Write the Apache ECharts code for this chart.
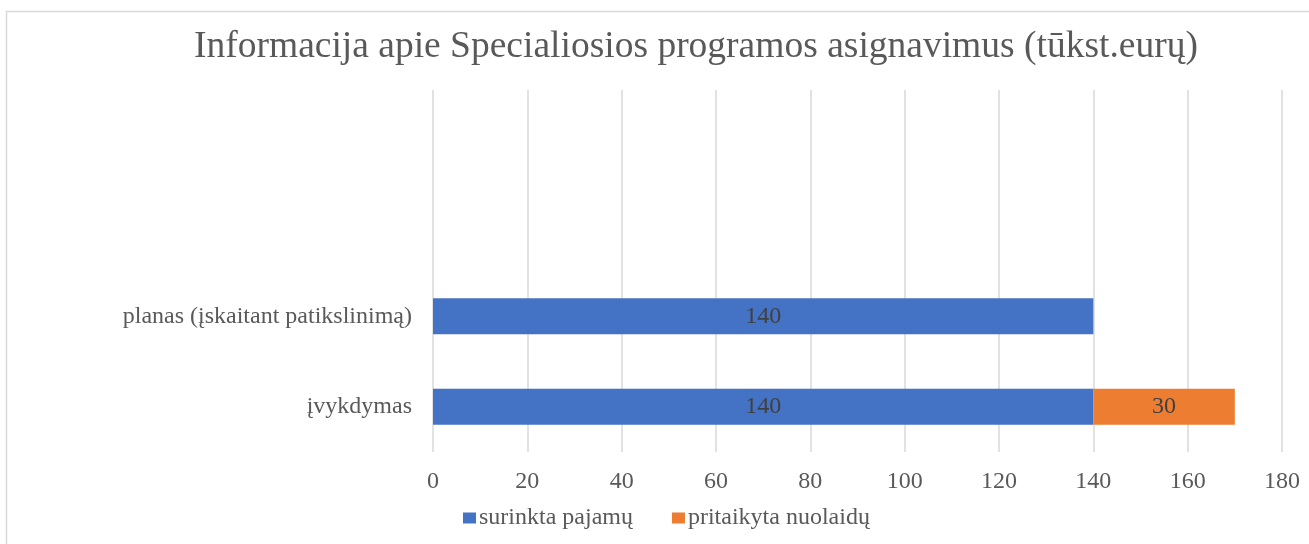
<!DOCTYPE html>
<html>
<head>
<meta charset="utf-8">
<title>Specialiosios programos asignavimai</title>
<script src="https://cdn.jsdelivr.net/npm/echarts@6/dist/echarts.min.js"></script>
<style>
  html, body { margin: 0; padding: 0; background: #fff; }
  #chart { width: 1309px; height: 544px; }
</style>
</head>
<body>
<div id="chart"></div>
<script>
// categories bottom -> top (two empty rows above, as in the original)
var categories = ['įvykdymas', 'planas (įskaitant patikslinimą)', '', ' ']
var collected = [140, 140, null, null]
var discounts = [30, null, null, null]
var seriesNames = ['surinkta pajamų', 'pritaikyta nuolaidų']

var font = '"Liberation Serif", "Times New Roman", serif'

var chart = echarts.init(document.getElementById('chart'))

function barLabel() {
  return {
    show: true,
    position: 'inside',
    color: '#404040',
    fontFamily: font,
    fontSize: 24,
    formatter: function(p) { return p.value == null ? '' : p.value }
  }
}

chart.setOption({
  backgroundColor: '#fff',
  animation: false,
  color: ['#4472C4', '#ED7D31'],
  title: {
    text: 'Informacija apie Specialiosios programos asignavimus (tūkst.eurų)',
    left: 189,
    top: 23,
    textStyle: {
      fontFamily: font,
      fontWeight: 'normal',
      fontSize: 37.5,
      color: '#595959'
    }
  },
  graphic: [{
    type: 'rect',
    shape: { x: 6.5, y: 11.5, width: 1400, height: 600 },
    style: { fill: 'none', stroke: '#d9d9d9', lineWidth: 1.5 },
    silent: true
  }],
  legend: {
    left: 458,
    top: 501,
    itemWidth: 13,
    itemHeight: 11,
    itemGap: 39,
    icon: 'rect',
    textStyle: {
      fontFamily: font,
      fontSize: 24,
      color: '#595959',
      padding: [0, 0, 0, -2]
    },
    data: seriesNames
  },
  grid: {
    left: 433,
    right: 27,
    top: 90,
    bottom: 92,
    containLabel: false
  },
  xAxis: {
    type: 'value',
    min: 0,
    max: 180,
    interval: 20,
    axisLine: { show: false },
    axisTick: { show: false },
    axisLabel: {
      margin: 18,
      fontFamily: font,
      fontSize: 24,
      color: '#595959'
    },
    splitLine: { lineStyle: { color: '#d9d9d9', width: 1.5 } }
  },
  yAxis: {
    type: 'category',
    data: categories,
    axisLine: { show: false },
    axisTick: { show: false },
    axisLabel: {
      margin: 21,
      fontFamily: font,
      fontSize: 24,
      color: '#595959'
    },
    splitLine: { show: false }
  },
  series: [{
    name: seriesNames[0],
    type: 'bar',
    stack: 'total',
    barWidth: '40%',
    label: barLabel(),
    data: collected
  }, {
    name: seriesNames[1],
    type: 'bar',
    stack: 'total',
    barWidth: '40%',
    label: barLabel(),
    data: discounts
  }]
})
</script>
</body>
</html>
